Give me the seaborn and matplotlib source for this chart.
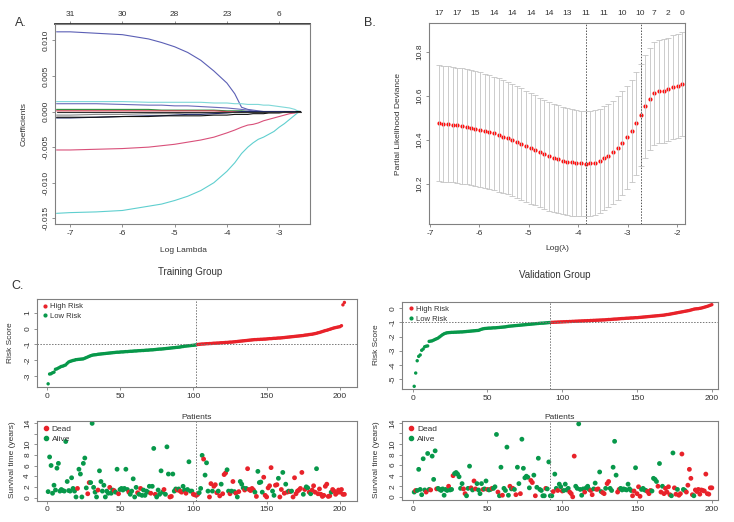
import matplotlib
matplotlib.use("Agg")
import numpy as np
import pandas as pd
import matplotlib.pyplot as plt
from matplotlib.lines import Line2D
import seaborn as sns

W, H = 734, 522
RED = "#e8222a"
GREEN = "#07984a"
FRAME = "#808080"

# ---------------- A. lasso coefficient paths
log_lambda_a = [-7.26, -7.0, -6.5, -6.0, -5.5, -5.25, -5.0, -4.75, -4.5, -4.25,
                -4.0, -3.85, -3.72, -3.6, -3.5, -3.4, -3.3, -3.2, -3.1, -3.0,
                -2.9, -2.8, -2.7, -2.65, -2.59]
coef_paths = {
    "v24": [0.0112, 0.0112, 0.0110, 0.0108, 0.0102, 0.0097, 0.0091, 0.0083, 0.0072, 0.0057,
            0.0040, 0.0025, 0.0006, 0.0003, 0.0002, 0.0001, 0.0, 0.0, 0.0, 0.0,
            0.0, 0.0, 0.0, 0.0, 0.0],
    "v26": [-0.0143, -0.0142, -0.0141, -0.0139, -0.0133, -0.0130, -0.0125, -0.0119, -0.0111, -0.0100,
            -0.0084, -0.0072, -0.0059, -0.0050, -0.0044, -0.0039, -0.0036, -0.0032, -0.0028, -0.0022,
            -0.0017, -0.0011, -0.0005, -0.0002, 0.0],
    "v14": [-0.0054, -0.0054, -0.0053, -0.0052, -0.0050, -0.0048, -0.0046, -0.0043, -0.0040, -0.0036,
            -0.0030, -0.0026, -0.0022, -0.0019, -0.0018, -0.0016, -0.0013, -0.0011, -0.0009, -0.0007,
            -0.0005, -0.0003, -0.0002, -0.0001, 0.0],
    "v31": [0.0014, 0.0014, 0.0014, 0.0014, 0.0013, 0.0013, 0.0013, 0.0013, 0.0013, 0.0012,
            0.0012, 0.0011, 0.0011, 0.0010, 0.0010, 0.0010, 0.0009, 0.0009, 0.0008, 0.0007,
            0.0006, 0.0005, 0.0003, 0.0001, 0.0],
    "v8": [0.0011, 0.0011, 0.0011, 0.0010, 0.0009, 0.0009, 0.0008, 0.0008, 0.0007, 0.0006,
           0.0005, 0.0004, 0.0003, 0.0002, 0.0001, 0.0, 0.0, 0.0, 0.0, 0.0,
           0.0, 0.0, 0.0, 0.0, 0.0],
    "v3": [0.0003, 0.0003, 0.0003, 0.0003, 0.0003, 0.0002, 0.0002, 0.0002, 0.0002, 0.0002,
           0.0001, 0.0001, 0.0001, 0.0, 0.0, 0.0, 0.0, 0.0, 0.0, 0.0,
           0.0, 0.0, 0.0, 0.0, 0.0],
    "v5": [0.0001, 0.0001, 0.0001, 0.0001, 0.0001, 0.0001, 0.0001, 0.0001, 0.0001, 0.0001,
           0.0, 0.0, 0.0, 0.0, 0.0, 0.0, 0.0, 0.0, 0.0, 0.0,
           0.0, 0.0, 0.0, 0.0, 0.0],
    "v11": [-0.0005, -0.0005, -0.0004, -0.0004, -0.0003, -0.0003, -0.0003, -0.0002, -0.0002, -0.0002,
            -0.0001, -0.0001, 0.0, 0.0, 0.0, 0.0, 0.0, 0.0, 0.0, 0.0,
            0.0, 0.0, 0.0, 0.0, 0.0],
    "v19": [-0.0009, -0.0009, -0.0008, -0.0007, -0.0006, -0.0006, -0.0005, -0.0004, -0.0004, -0.0003,
            -0.0002, -0.0001, 0.0, 0.0, 0.0, 0.0, 0.0, 0.0, 0.0, 0.0,
            0.0, 0.0, 0.0, 0.0, 0.0],
    "v21": [-0.0008, -0.0008, -0.0008, -0.0007, -0.0007, -0.0006, -0.0006, -0.0006, -0.0006, -0.0005,
            -0.0005, -0.0004, -0.0004, -0.0004, -0.0003, -0.0003, -0.0003, -0.0002, -0.0002, -0.0002,
            -0.0001, -0.0001, -0.0001, 0.0, 0.0],
    "v1": [0.0, 0.0, 0.0, 0.0, 0.0, 0.0, 0.0, 0.0, 0.0, 0.0,
           0.0, 0.0, 0.0, 0.0, 0.0, 0.0, 0.0, 0.0, 0.0, 0.0,
           0.0, 0.0, 0.0, 0.0, 0.0],
}
path_colors = {"v24": "#5b5fb5", "v26": "#5fcfcf", "v14": "#d9507a", "v31": "#7fd8d8",
               "v8": "#6a6ab8", "v3": "#2e8b3a", "v5": "#cc3344", "v11": "#8a8a8a",
               "v19": "#1f2a66", "v21": "#111111", "v1": "#333333"}
top_a_pos = [-7, -6, -5, -4, -3]
top_a_labels = ["31", "30", "28", "23", "6"]

# ---------------- B. cross-validation curve
log_lambda_b = [-6.82, -6.73, -6.63, -6.54, -6.45, -6.36, -6.26, -6.17, -6.08, -5.98,
                -5.89, -5.80, -5.71, -5.61, -5.52, -5.43, -5.34, -5.24, -5.15, -5.06,
                -4.96, -4.87, -4.78, -4.69, -4.59, -4.50, -4.41, -4.31, -4.22, -4.13,
                -4.04, -3.94, -3.85, -3.76, -3.67, -3.57, -3.48, -3.39, -3.29, -3.20,
                -3.11, -3.02, -2.92, -2.83, -2.74, -2.64, -2.55, -2.46, -2.37, -2.27,
                -2.18, -2.09, -1.99, -1.90]
cv_mean = [10.476, 10.474, 10.472, 10.470, 10.467, 10.464, 10.460, 10.456, 10.452, 10.447,
           10.441, 10.436, 10.430, 10.423, 10.416, 10.409, 10.401, 10.391, 10.382, 10.372,
           10.362, 10.353, 10.344, 10.335, 10.327, 10.320, 10.313, 10.307, 10.302, 10.299,
           10.296, 10.294, 10.293, 10.295, 10.298, 10.305, 10.318, 10.330, 10.345, 10.364,
           10.387, 10.413, 10.441, 10.476, 10.514, 10.553, 10.586, 10.612, 10.621, 10.622,
           10.630, 10.639, 10.646, 10.654]
cv_se = [0.262, 0.262, 0.262, 0.262, 0.261, 0.261, 0.261, 0.260, 0.260, 0.259,
         0.259, 0.258, 0.257, 0.256, 0.256, 0.255, 0.254, 0.253, 0.252, 0.251,
         0.250, 0.249, 0.248, 0.247, 0.246, 0.245, 0.244, 0.243, 0.242, 0.241,
         0.240, 0.239, 0.238, 0.237, 0.237, 0.236, 0.235, 0.235, 0.234, 0.234,
         0.234, 0.233, 0.233, 0.232, 0.232, 0.232, 0.232, 0.233, 0.233, 0.234,
         0.234, 0.235, 0.235, 0.236]
lambda_min = -3.85
lambda_1se = -2.74
top_b_idx = [0, 4, 8, 12, 16, 20, 24, 28, 32, 36, 40, 44, 47, 50, 53]
top_b_labels = ["17", "17", "15", "14", "14", "14", "14", "13", "11", "11", "10", "10", "7", "2", "0"]

# ---------------- C. risk score / survival
train_n_low = 102
train_risk = [-3.50, -2.88, -2.86, -2.80, -2.76, -2.58, -2.55, -2.50, -2.45, -2.40,
              -2.38, -2.34, -2.30, -2.20, -2.12, -2.08, -2.05, -2.02, -2.00, -1.97,
              -1.96, -1.95, -1.94, -1.93, -1.92, -1.88, -1.84, -1.80, -1.76, -1.72,
              -1.69, -1.67, -1.66, -1.65, -1.63, -1.62, -1.61, -1.60, -1.59, -1.58,
              -1.57, -1.56, -1.55, -1.54, -1.53, -1.52, -1.51, -1.50, -1.50, -1.49,
              -1.48, -1.48, -1.47, -1.46, -1.46, -1.45, -1.44, -1.44, -1.43, -1.42,
              -1.42, -1.41, -1.40, -1.40, -1.39, -1.39, -1.38, -1.37, -1.37, -1.36,
              -1.35, -1.35, -1.34, -1.33, -1.32, -1.31, -1.30, -1.30, -1.29, -1.28,
              -1.27, -1.26, -1.25, -1.24, -1.23, -1.22, -1.21, -1.20, -1.19, -1.18,
              -1.17, -1.15, -1.14, -1.12, -1.11, -1.10, -1.09, -1.08, -1.07, -1.06,
              -1.05, -1.03,
              -1.01, -1.00, -0.99, -0.98, -0.98, -0.97, -0.96, -0.96,
              -0.95, -0.95, -0.94, -0.93, -0.93, -0.92, -0.92, -0.91, -0.90, -0.90,
              -0.89, -0.88, -0.88, -0.87, -0.86, -0.86, -0.85, -0.84, -0.83, -0.82,
              -0.81, -0.80, -0.79, -0.78, -0.77, -0.76, -0.75, -0.74, -0.73, -0.72,
              -0.71, -0.70, -0.70, -0.69, -0.69, -0.68, -0.68, -0.67, -0.67, -0.66,
              -0.65, -0.64, -0.64, -0.63, -0.62, -0.62, -0.61, -0.60, -0.60, -0.59,
              -0.58, -0.57, -0.56, -0.55, -0.54, -0.53, -0.52, -0.51, -0.50, -0.49,
              -0.48, -0.47, -0.46, -0.45, -0.44, -0.42, -0.41, -0.40, -0.38, -0.37,
              -0.36, -0.34, -0.32, -0.30, -0.27, -0.25, -0.22, -0.19, -0.16, -0.13,
              -0.11, -0.08, -0.05, -0.02, 0.01, 0.04, 0.06, 0.08, 0.10, 0.12,
              0.18, 1.50, 1.65]
train_time = [1.1, 7.6, 6.0, 0.8, 2.3, 1.4, 5.5, 6.4, 1.2, 1.5,
              1.3, 1.2, 10.5, 3.0, 1.3, 1.2, 3.7, 1.7, 1.2, 0.1,
              1.7, 5.3, 4.4, 0.1, 6.4, 7.4, 1.8, 0.7, 2.8, 2.8,
              13.9, 1.9, 1.0, 0.1, 1.4, 5.0, 3.0, 1.2, 2.3, 0.1,
              1.2, 0.8, 1.9, 0.8, 1.4, 1.3, 1.0, 5.3, 0.7, 1.5,
              1.7, 1.4, 1.7, 5.3, 1.5, 1.0, 0.6, 1.2, 3.5, 0.1,
              1.9, 0.9, 0.6, 1.7, 0.4, 1.4, 0.4, 1.2, 1.0, 2.1,
              0.8, 2.1, 9.2, 0.6, 0.1, 1.4, 0.6, 5.0, 1.0, 1.5,
              0.6, 9.5, 4.4, 0.1, 0.2, 4.4, 1.2, 1.6, 1.4, 1.6,
              1.2, 1.0, 2.1, 1.4, 0.8, 1.5, 6.7, 1.2, 1.2, 0.6,
              0.5, 0.4, 0.6, 0.9, 1.7, 7.9, 7.2, 4.2, 6.5, 1.2,
              0.1, 2.6, 1.2, 2.1, 2.4, 0.9, 1.2, 0.3, 2.5, 0.7,
              4.3, 4.6, 5.2, 1.2, 0.7, 1.2, 3.0, 1.1, 0.8, 0.1,
              1.1, 3.0, 2.5, 1.8, 1.4, 1.7, 5.4, 1.5, 1.3, 1.7,
              1.4, 1.0, 0.2, 4.9, 2.8, 2.9, 1.0, 3.8, 0.4, 0.1,
              1.8, 2.2, 5.6, 1.2, 0.4, 2.3, 2.4, 3.6, 0.1, 1.5,
              4.7, 0.8, 2.5, 1.0, 1.2, 1.1, 1.2, 0.1, 3.7, 0.7,
              1.2, 1.4, 1.7, 4.7, 0.6, 1.5, 2.0, 1.8, 1.0, 0.7,
              1.4, 2.2, 1.0, 5.4, 0.7, 1.6, 0.6, 0.2, 0.4, 2.1,
              2.5, 0.2, 0.3, 1.0, 1.5, 1.2, 0.6, 0.9, 1.4, 1.0,
              1.5, 0.6, 0.6]
train_dead = [0, 0, 0, 0, 0, 0, 0, 0, 0, 0,
              0, 0, 0, 0, 0, 0, 0, 0, 0, 0,
              1, 0, 0, 0, 0, 0, 0, 1, 1, 0,
              0, 0, 0, 0, 1, 0, 0, 0, 0, 0,
              0, 0, 1, 0, 0, 1, 0, 0, 1, 0,
              0, 0, 0, 0, 0, 1, 0, 0, 0, 0,
              0, 1, 0, 1, 0, 0, 0, 0, 0, 0,
              1, 0, 0, 1, 0, 0, 0, 0, 0, 1,
              0, 0, 0, 1, 1, 0, 0, 0, 1, 0,
              1, 1, 0, 0, 1, 0, 0, 0, 0, 1,
              1, 1, 1, 0, 0, 0, 1, 0, 0, 0,
              1, 1, 0, 1, 1, 1, 0, 1, 0, 1,
              1, 1, 0, 0, 1, 0, 1, 0, 1, 0,
              1, 0, 0, 0, 1, 0, 1, 1, 1, 1,
              1, 0, 1, 0, 0, 0, 0, 1, 1, 1,
              1, 1, 1, 0, 0, 1, 1, 0, 1, 1,
              0, 1, 0, 1, 0, 1, 0, 1, 1, 1,
              1, 1, 1, 1, 0, 1, 0, 0, 1, 0,
              1, 1, 1, 0, 1, 1, 1, 1, 1, 1,
              1, 1, 1, 0, 1, 1, 1, 1, 1, 1,
              1, 1, 1]

valid_n_low = 92
valid_risk = [-5.52, -4.58, -3.71, -3.40, -3.30, -2.97, -2.88, -2.72, -2.68, -2.66,
              -2.34, -2.32, -2.30, -2.25, -2.20, -2.15, -2.10, -2.02, -1.94, -1.86,
              -1.80, -1.76, -1.73, -1.72, -1.71, -1.70, -1.70, -1.69, -1.69, -1.68,
              -1.68, -1.67, -1.67, -1.66, -1.65, -1.64, -1.63, -1.62, -1.61, -1.60,
              -1.59, -1.58, -1.57, -1.56, -1.52, -1.48, -1.45, -1.43, -1.42, -1.41,
              -1.40, -1.40, -1.39, -1.38, -1.38, -1.37, -1.36, -1.35, -1.34, -1.33,
              -1.32, -1.31, -1.29, -1.27, -1.26, -1.25, -1.24, -1.23, -1.22, -1.21,
              -1.20, -1.19, -1.18, -1.17, -1.16, -1.15, -1.14, -1.13, -1.12, -1.11,
              -1.10, -1.09, -1.08, -1.07, -1.06, -1.05, -1.05, -1.04, -1.03, -1.02,
              -1.01, -1.00,
              -0.99, -0.99, -0.98, -0.98, -0.97, -0.97, -0.96, -0.96,
              -0.95, -0.95, -0.94, -0.94, -0.93, -0.93, -0.92, -0.92, -0.91, -0.91,
              -0.90, -0.90, -0.89, -0.89, -0.88, -0.88, -0.87, -0.87, -0.86, -0.86,
              -0.85, -0.85, -0.84, -0.84, -0.83, -0.83, -0.82, -0.82, -0.81, -0.80,
              -0.79, -0.79, -0.78, -0.77, -0.76, -0.76, -0.75, -0.74, -0.73, -0.72,
              -0.72, -0.71, -0.70, -0.70, -0.69, -0.68, -0.68, -0.67, -0.66, -0.66,
              -0.65, -0.64, -0.63, -0.62, -0.61, -0.60, -0.59, -0.58, -0.57, -0.56,
              -0.55, -0.54, -0.53, -0.52, -0.51, -0.50, -0.49, -0.48, -0.46, -0.44,
              -0.43, -0.41, -0.39, -0.37, -0.35, -0.33, -0.31, -0.29, -0.27, -0.25,
              -0.23, -0.21, -0.19, -0.17, -0.15, -0.12, -0.09, -0.06, -0.04, -0.03,
              -0.02, 0.00, 0.02, 0.05, 0.08, 0.11, 0.14, 0.18, 0.22, 0.26]
valid_time = [0.9, 1.2, 1.2, 5.2, 1.4, 0.4, 7.2, 1.3, 0.9, 8.2,
              1.4, 1.3, 7.7, 3.3, 8.7, 1.5, 1.6, 1.4, 1.2, 1.5,
              0.3, 1.4, 1.2, 2.0, 1.3, 1.4, 4.0, 4.4, 4.6, 4.3,
              3.8, 1.6, 2.5, 1.5, 0.6, 0.2, 1.6, 5.8, 1.7, 1.3,
              3.0, 1.5, 2.5, 1.3, 0.6, 2.5, 1.4, 1.5, 3.0, 1.4,
              1.3, 1.4, 1.6, 1.6, 1.9, 11.8, 0.9, 0.2, 5.6, 0.3,
              1.6, 1.2, 9.4, 0.3, 2.0, 1.5, 1.6, 1.4, 0.4, 5.6,
              2.5, 0.6, 10.9, 5.4, 3.6, 3.9, 3.7, 1.7, 3.1, 2.7,
              4.1, 0.2, 1.8, 7.3, 1.4, 1.2, 0.2, 0.2, 1.6, 1.5,
              6.6, 0.2, 0.2, 1.0, 4.3, 1.6, 1.2, 2.4, 1.9, 1.1,
              1.2, 2.4, 1.3, 1.6, 0.9, 0.6, 0.0, 7.7, 2.0, 1.6,
              13.8, 1.4, 0.3, 1.5, 0.9, 1.7, 2.0, 1.4, 1.2, 0.4,
              1.5, 2.6, 1.4, 1.5, 4.7, 1.0, 0.8, 0.6, 1.6, 2.5,
              2.9, 1.6, 1.2, 5.6, 10.5, 4.1, 0.9, 1.4, 1.6, 1.3,
              1.5, 1.4, 1.3, 2.4, 1.5, 1.2, 0.2, 1.1, 5.5, 0.6,
              1.9, 0.1, 1.4, 1.6, 1.3, 1.2, 1.0, 0.6, 1.2, 1.1,
              3.5, 3.3, 2.9, 2.0, 6.3, 0.9, 2.0, 0.6, 1.6, 0.9,
              1.9, 0.4, 0.2, 8.3, 1.7, 0.5, 1.4, 0.3, 0.6, 8.1,
              1.4, 1.2, 0.9, 2.2, 5.2, 3.5, 0.4, 0.2, 1.3, 1.0,
              1.4, 0.5, 1.3, 1.2, 1.1, 4.3, 0.6, 0.5, 1.7, 1.7]
valid_dead = [0, 1, 0, 0, 0, 0, 0, 0, 1, 0,
              0, 1, 0, 0, 0, 1, 0, 0, 0, 0,
              0, 0, 0, 1, 0, 0, 1, 0, 0, 0,
              0, 0, 0, 1, 1, 0, 0, 0, 1, 0,
              1, 1, 0, 0, 0, 0, 1, 0, 0, 1,
              0, 0, 1, 0, 0, 0, 1, 0, 0, 1,
              0, 0, 0, 0, 1, 0, 1, 0, 1, 0,
              0, 1, 0, 0, 0, 0, 0, 0, 1, 1,
              0, 1, 0, 0, 0, 0, 0, 0, 1, 0,
              0, 0, 0, 1, 0, 0, 1, 0, 0, 1,
              0, 0, 0, 0, 1, 1, 1, 1, 0, 0,
              0, 0, 0, 0, 1, 0, 0, 0, 1, 1,
              0, 0, 1, 1, 0, 0, 1, 1, 0, 1,
              1, 0, 0, 0, 0, 0, 1, 1, 0, 0,
              0, 0, 0, 0, 0, 0, 1, 1, 0, 1,
              1, 1, 0, 0, 0, 0, 1, 1, 1, 0,
              0, 0, 0, 1, 0, 1, 0, 1, 1, 1,
              1, 1, 0, 0, 1, 1, 0, 1, 1, 1,
              0, 0, 1, 1, 1, 1, 1, 0, 1, 1,
              1, 1, 1, 1, 1, 1, 1, 1, 1, 1]

sns.set_theme(style="white")
plt.rcParams["font.family"] = ["Liberation Sans", "DejaVu Sans"]
plt.rcParams["axes.unicode_minus"] = False

fig = plt.figure(figsize=(W / 100, H / 100), dpi=100)


def px_axes(l, t, r, b):
    return fig.add_axes([l / W, 1 - b / H, (r - l) / W, (b - t) / H])


def px_text(x, y, s, **kw):
    fig.text(x / W, 1 - y / H, s, ha=kw.pop("ha", "center"), va=kw.pop("va", "center"),
             color=kw.pop("color", "#333333"), **kw)


def style(ax, size=6):
    for sp in ax.spines.values():
        sp.set_color(FRAME)
        sp.set_linewidth(0.8)
    ax.tick_params(length=2.5, width=0.6, colors=FRAME, labelcolor="#333333",
                   labelsize=size, pad=1.5, bottom=True, left=True)
    ax.tick_params(axis="y", labelrotation=90)
    for t in ax.get_yticklabels():
        t.set_va("center")
    ax.set_xlabel("")
    ax.set_ylabel("")


# ---- panel A
axA = px_axes(55, 24, 310, 224)
dfA = pd.DataFrame([(x, v, k) for k, vals in coef_paths.items()
                    for x, v in zip(log_lambda_a, vals)],
                   columns=["loglam", "coef", "var"])
sns.lineplot(data=dfA, x="loglam", y="coef", hue="var", palette=path_colors,
             estimator=None, legend=False, linewidth=0.8, ax=axA)
axA.set_xlim(-7.29, -2.41)
axA.set_ylim(-0.0158, 0.0123)
axA.set_xticks([-7, -6, -5, -4, -3])
axA.set_yticks([-0.015, -0.010, -0.005, 0.0, 0.005, 0.010])
axA.set_yticklabels(["%.3f" % v for v in [-0.015, -0.010, -0.005, 0.0, 0.005, 0.010]])
style(axA)
secA = axA.secondary_xaxis("top")
secA.set_xticks(top_a_pos, labels=top_a_labels)
secA.tick_params(length=2.5, width=0.6, colors=FRAME, labelcolor="#333333", labelsize=6, pad=1.5)

# ---- panel B
axB = px_axes(429, 23, 685, 224)
axB.errorbar(log_lambda_b, cv_mean, yerr=cv_se, fmt="none", ecolor="#c4c4c4",
             elinewidth=0.6, capsize=2, capthick=0.6)
sns.scatterplot(x=log_lambda_b, y=cv_mean, color="#ff1010", s=9, linewidth=0, ax=axB)
axB.axvline(lambda_min, color="#555555", lw=0.7, ls=(0, (1.5, 1.5)))
axB.axvline(lambda_1se, color="#555555", lw=0.7, ls=(0, (1.5, 1.5)))
axB.set_xlim(-7.02, -1.84)
axB.set_ylim(10.02, 10.93)
axB.set_xticks([-7, -6, -5, -4, -3, -2])
axB.set_yticks([10.2, 10.4, 10.6, 10.8])
axB.set_yticklabels(["10.2", "10.4", "10.6", "10.8"])
style(axB)
secB = axB.secondary_xaxis("top")
secB.set_xticks([log_lambda_b[i] for i in top_b_idx], labels=top_b_labels)
secB.tick_params(length=0, labelcolor="#333333", labelsize=6, pad=4)
for sp in secB.spines.values():
    sp.set_visible(False)


def risk_panel(ax, risk, n_low, xlim, ylim, yticks):
    n = len(risk)
    df = pd.DataFrame({"patient": np.arange(1, n + 1), "risk": risk})
    df["group"] = np.where(df["patient"] > n_low, "High Risk", "Low Risk")
    sns.scatterplot(data=df, x="patient", y="risk", hue="group",
                    palette={"High Risk": RED, "Low Risk": GREEN},
                    s=6, linewidth=0, legend=False, ax=ax)
    ax.axhline(-1, color="#777777", lw=0.7, ls=(0, (1.5, 1.5)))
    ax.axvline(n_low, color="#777777", lw=0.7, ls=(0, (1.5, 1.5)))
    ax.set_xlim(*xlim)
    ax.set_ylim(*ylim)
    ax.set_xticks([0, 50, 100, 150, 200])
    ax.set_yticks(yticks)
    style(ax)
    handles = [Line2D([], [], marker="o", ls="", color=RED, markersize=2, label="High Risk"),
               Line2D([], [], marker="o", ls="", color=GREEN, markersize=2, label="Low Risk")]
    ax.legend(handles=handles, loc="upper left", frameon=False, fontsize=5.5,
              handletextpad=0.1, borderaxespad=0.2, labelspacing=0.3, borderpad=0.3,
              handlelength=1.2, labelcolor="#333333")


def surv_panel(ax, times, dead, n_low, xlim):
    n = len(times)
    df = pd.DataFrame({"patient": np.arange(1, n + 1), "time": times, "dead": dead})
    df["state"] = np.where(df["dead"] == 1, "Dead", "Alive")
    sns.scatterplot(data=df, x="patient", y="time", hue="state",
                    palette={"Dead": RED, "Alive": GREEN},
                    s=12, linewidth=0, legend=False, ax=ax)
    ax.axvline(n_low, color="#777777", lw=0.7, ls=(0, (1.5, 1.5)))
    ax.set_xlim(*xlim)
    ax.set_ylim(-0.6, 14.4)
    ax.set_xticks([0, 50, 100, 150, 200])
    ax.set_yticks([0, 2, 4, 6, 8, 10, 12, 14])
    ax.set_yticklabels(["0", "2", "4", "6", "8", "10", "", "14"])
    style(ax)
    ax.set_title("Patients", fontsize=6, color="#333333", pad=1.5)
    handles = [Line2D([], [], marker="o", ls="", color=RED, markersize=3, label="Dead"),
               Line2D([], [], marker="o", ls="", color=GREEN, markersize=3, label="Alive")]
    ax.legend(handles=handles, loc="upper left", frameon=False, fontsize=6,
              handletextpad=0.1, borderaxespad=0.2, labelspacing=0.25, borderpad=0.3,
              handlelength=1.2, labelcolor="#333333")


axT1 = px_axes(36.7, 299.3, 357.3, 387.3)
risk_panel(axT1, train_risk, train_n_low, (-6.8, 211.8), (-3.72, 1.85), [-3, -2, -1, 0, 1])
axT2 = px_axes(36.7, 420.7, 357.3, 500.7)
surv_panel(axT2, train_time, train_dead, train_n_low, (-6.8, 211.8))

axV1 = px_axes(402.3, 301.7, 717.5, 389)
risk_panel(axV1, valid_risk, valid_n_low, (-6.96, 203.8), (-5.71, 0.47), [-5, -4, -3, -2, -1, 0])
axV2 = px_axes(402.3, 420.7, 717.5, 500)
surv_panel(axV2, valid_time, valid_dead, valid_n_low, (-6.96, 203.8))

# labels
px_text(21, 23, "A.", fontsize=9)
px_text(370, 23, "B.", fontsize=9)
px_text(18, 286, "C.", fontsize=9)
px_text(183, 250, "Log Lambda", fontsize=6)
px_text(24, 124, "Coefficients", fontsize=6, rotation=90)
px_text(557, 248, "Log(\u03bb)", fontsize=6)
px_text(398, 124, "Partial Likelihood Deviance", fontsize=6, rotation=90)
px_text(190, 272, "Training Group", fontsize=7)
px_text(555, 275, "Validation Group", fontsize=7)
px_text(11, 343, "Risk Score", fontsize=6, rotation=90)
px_text(377, 345, "Risk Score", fontsize=6, rotation=90)
px_text(13, 460, "Survival time (years)", fontsize=6, rotation=90)
px_text(377, 460, "Survival time (years)", fontsize=6, rotation=90)

fig.savefig("out.png", dpi=100)
